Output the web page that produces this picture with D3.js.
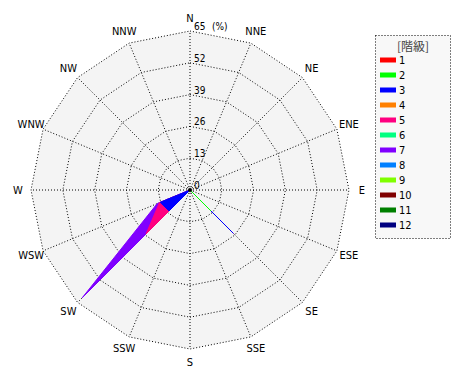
<!DOCTYPE html>
<html>
<head>
<meta charset="utf-8">
<script src="https://cdn.jsdelivr.net/npm/d3@7"></script>
<style>
  body { margin: 0; background: #fff; }
  text { font-family: "Liberation Sans Narrow", "DejaVu Sans Condensed", sans-serif; }
</style>
</head>
<body>
<div id="rose"></div>
<script>
// 16 wind directions, clockwise from N
var directions = ["N", "NNE", "NE", "ENE", "E", "ESE", "SE", "SSE",
                  "S", "SSW", "SW", "WSW", "W", "WNW", "NW", "NNW"];
var classes = ["1", "2", "3", "4", "5", "6", "7", "8", "9", "10", "11", "12"];
var colors = ["#ff0000", "#00ff00", "#0000ff", "#ff8000", "#ff0080", "#00ff80",
              "#8000ff", "#0080ff", "#80ff00", "#800000", "#008000", "#000080"];
var ticks = [0, 13, 26, 39, 52, 65];

// frequency (%) of each class per direction (N ... NNW)
var freq = [
  [0, 0, 0, 0, 0, 0,    0, 0, 0, 0,    0,    0,   0, 0, 0, 0], // 1
  [0, 0, 0, 0, 0, 0, 12.1, 0, 0, 0,    0,    0,   0, 0, 0, 0], // 2
  [0, 0, 0, 0, 0, 0, 12.9, 0, 0, 0, 12.1, 13.2,   0, 0, 0, 0], // 3
  [0, 0, 0, 0, 0, 0,    0, 0, 0, 0,    0,    0,   0, 0, 0, 0], // 4
  [0, 0, 0, 0, 0, 0,    0, 0, 0, 0, 13.3,  0.3,   0, 0, 0, 0], // 5
  [0, 0, 0, 0, 0, 0,    0, 0, 0, 0,    0,    0,   0, 0, 0, 0], // 6
  [0, 0, 0, 0, 0, 0,    0, 0, 0, 0, 36.9,  1.0,   0, 0, 0, 0], // 7
  [0, 0, 0, 0, 0, 0,    0, 0, 0, 0,    0,    0,   0, 0, 0, 0], // 8
  [0, 0, 0, 0, 0, 0,    0, 0, 0, 0,    0,    0,   0, 0, 0, 0], // 9
  [0, 0, 0, 0, 0, 0,    0, 0, 0, 0,    0,    0,   0, 0, 0, 0], // 10
  [0, 0, 0, 0, 0, 0,    0, 0, 0, 0,    0,    0,   0, 0, 0, 0], // 11
  [0, 0, 0, 0, 0, 0,    0, 0, 0, 0,    0,    0,   0, 0, 0, 0]  // 12
];

var width = 470, height = 380;
var cx = 190, cy = 190, outer = 159;

var svg = d3.select("#rose").append("svg")
  .attr("width", width)
  .attr("height", height);

var g = svg.append("g")
  .attr("transform", "translate(" + cx + "," + cy + ")");

var r = d3.scaleLinear().domain([0, 65]).range([0, outer]);
var angle = d3.scalePoint()
  .domain(directions)
  .range([0, 2 * Math.PI * 15 / 16]);

var ring = d3.lineRadial()
  .angle((d) => angle(d.dir))
  .radius((d) => r(d.v))
  .curve(d3.curveLinearClosed);

// background polygon
g.append("path")
  .attr("d", ring(directions.map((dir) => ({dir: dir, v: 65}))))
  .attr("fill", "#f4f4f4");

// rings
g.selectAll(".ring")
  .data(ticks.slice(1))
  .enter().append("path")
  .attr("class", "ring")
  .attr("d", (t) => ring(directions.map((dir) => ({dir: dir, v: t}))))
  .attr("fill", "none")
  .attr("stroke", "#000")
  .attr("stroke-dasharray", "1,2");

// spokes
g.selectAll(".spoke")
  .data(directions)
  .enter().append("line")
  .attr("class", "spoke")
  .attr("x1", 0).attr("y1", 0)
  .attr("x2", (d) => r(65) * Math.sin(angle(d)))
  .attr("y2", (d) => -r(65) * Math.cos(angle(d)))
  .attr("stroke", "#000")
  .attr("stroke-dasharray", "1,2");

// cumulative stacks
var cum = [];
freq.forEach(function(row, k) {
  cum.push(row.map((v, i) => v + (k > 0 ? cum[k - 1][i] : 0)));
});

for (let k = classes.length - 1; k >= 0; k--) {
  if (d3.max(freq[k]) === 0) continue;
  g.append("path")
    .attr("d", ring(directions.map((dir, i) => ({dir: dir, v: cum[k][i]}))))
    .attr("fill", colors[k])
    .attr("stroke", colors[k])
    .attr("stroke-width", 1)
    .attr("stroke-linejoin", "miter");
}

g.append("circle").attr("r", 2).attr("fill", "#000");

// tick labels
g.selectAll(".tick")
  .data(ticks)
  .enter().append("text")
  .attr("class", "tick")
  .attr("x", 4)
  .attr("y", (t) => -r(t) - 1)
  .attr("font-size", 10)
  .text((t) => t);

g.append("text")
  .attr("x", 22)
  .attr("y", -r(65) - 1)
  .attr("font-size", 10)
  .text("(%)");

// direction labels
g.selectAll(".dir")
  .data(directions)
  .enter().append("text")
  .attr("class", "dir")
  .attr("x", (d) => 172 * Math.sin(angle(d)))
  .attr("y", (d) => -172 * Math.cos(angle(d)))
  .attr("text-anchor", "middle")
  .attr("dominant-baseline", "central")
  .attr("font-size", 11)
  .text((d) => d);

// legend
var legend = svg.append("g").attr("transform", "translate(375,35)");
legend.append("rect")
  .attr("x", 0.5).attr("y", 0.5)
  .attr("width", 75).attr("height", 203)
  .attr("fill", "#f8f8f8")
  .attr("stroke", "#000")
  .attr("stroke-dasharray", "1,2");

legend.append("text")
  .attr("x", 38).attr("y", 10)
  .attr("text-anchor", "middle")
  .attr("dominant-baseline", "central")
  .attr("font-size", 12)
  .attr("fill", "#444")
  .style("font-family", "'Noto Sans CJK JP', sans-serif")
  .text("[階級]");

var items = legend.selectAll(".item")
  .data(classes)
  .enter().append("g")
  .attr("class", "item")
  .attr("transform", (d, i) => "translate(5," + (25 + i * 15) + ")");

items.append("rect")
  .attr("width", 16).attr("height", 5)
  .attr("y", -2.5)
  .attr("fill", (d, i) => colors[i]);

items.append("text")
  .attr("x", 19)
  .attr("dominant-baseline", "central")
  .attr("font-size", 11)
  .text((d) => d);
</script>
</body>
</html>
